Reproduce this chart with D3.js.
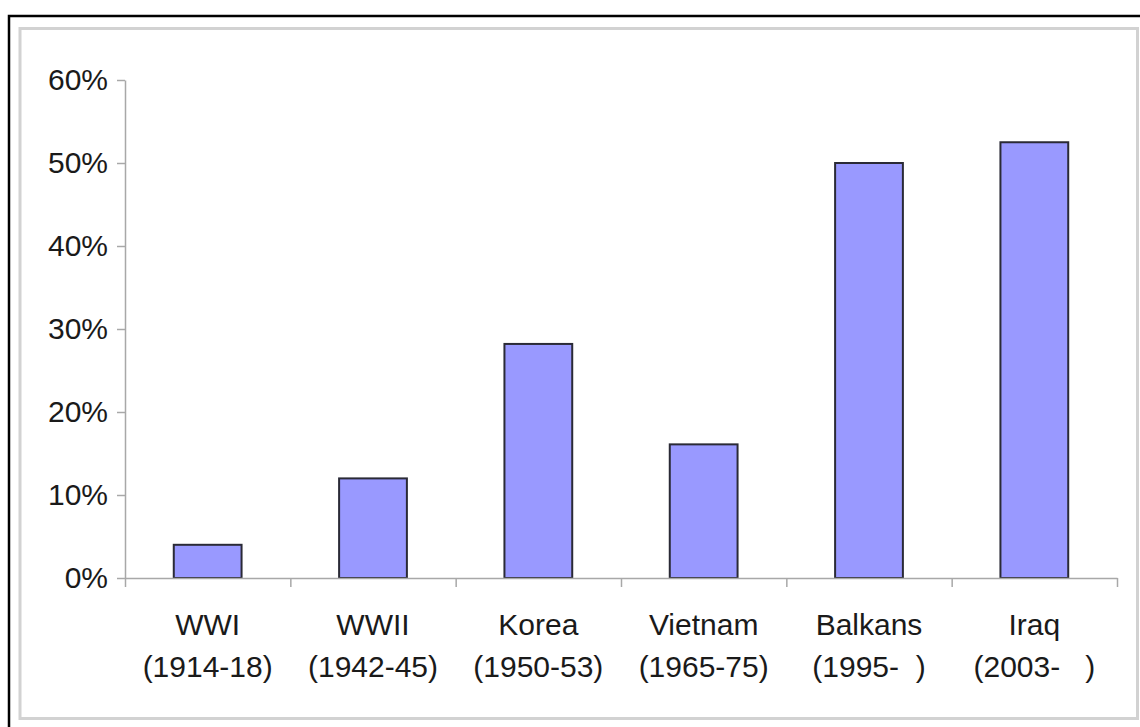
<!DOCTYPE html>
<html>
<head>
<meta charset="utf-8">
<script src="https://cdn.jsdelivr.net/npm/d3@7"></script>
<style>
  html, body { margin: 0; padding: 0; background: #fff; }
  svg { display: block; }
  text { font-family: "Liberation Sans", Arial, sans-serif; fill: #1a1a1a; }
</style>
</head>
<body>
<div id="chart"></div>
<script>
/* Percentage bar chart by conflict */

const conflicts = ["WWI", "WWII", "Korea", "Vietnam", "Balkans", "Iraq"];
const periods = ["(1914-18)", "(1942-45)", "(1950-53)", "(1965-75)", "(1995-  )", "(2003-   )"];
const shares = [4, 12, 28.2, 16.1, 50, 52.5];
const yTicks = [0, 10, 20, 30, 40, 50, 60];

const width = 1140, height = 727;
const margin = { top: 80, right: 23, bottom: 149, left: 125 };
const plotW = width - margin.left - margin.right;
const plotH = height - margin.top - margin.bottom;

const svg = d3.select("#chart")
  .append("svg")
  .attr("width", width)
  .attr("height", height);

// Outer frame (black, clipped by the page edge) and the chart-area frame
svg.append("rect")
  .attr("x", 9).attr("y", 16)
  .attr("width", width + 20).attr("height", height + 20)
  .attr("fill", "none")
  .attr("stroke", "#000")
  .attr("stroke-width", 2.5);

svg.append("rect")
  .attr("x", 20).attr("y", 28.5)
  .attr("width", 1117.5).attr("height", 690)
  .attr("fill", "none")
  .attr("stroke", "#d2d2d2")
  .attr("stroke-width", 3);

const g = svg.append("g").attr("transform", `translate(${margin.left},${margin.top})`);

const x = d3.scaleBand().domain(conflicts).range([0, plotW]).padding(0);
const xEdges = d3.scaleLinear().domain([0, conflicts.length]).range([0, plotW]);
const y = d3.scaleLinear().domain([0, 60]).range([plotH, 0]);
const barW = x.bandwidth() * 0.41;

// Bars
g.selectAll("rect.bar")
  .data(conflicts)
  .join("rect")
  .attr("class", "bar")
  .attr("x", d => x(d) + (x.bandwidth() - barW) / 2)
  .attr("y", (d, i) => y(shares[i]))
  .attr("width", barW)
  .attr("height", (d, i) => y(0) - y(shares[i]))
  .attr("fill", "#9999ff")
  .attr("stroke", "#2a2a36")
  .attr("stroke-width", 2);

// Y axis
const yAxis = g.append("g")
  .call(d3.axisLeft(y).tickValues(yTicks).tickSize(8).tickSizeOuter(0).tickFormat(d => d + "%"));
yAxis.select(".domain").attr("stroke", "#a8a8a8").attr("stroke-width", 1.5);
yAxis.selectAll(".tick line").attr("stroke", "#a8a8a8").attr("stroke-width", 1.5);
yAxis.selectAll(".tick text")
  .attr("x", -17)
  .attr("font-size", 30)
  .attr("fill", "#1a1a1a")
  .style("font-family", "'Liberation Sans', Arial, sans-serif");

// X axis with ticks between categories
const xAxis = g.append("g")
  .attr("transform", `translate(0,${plotH})`)
  .call(d3.axisBottom(xEdges).tickValues(d3.range(conflicts.length + 1)).tickSize(9).tickSizeOuter(0).tickFormat(""));
xAxis.select(".domain").attr("stroke", "#a8a8a8").attr("stroke-width", 1.5);
xAxis.selectAll(".tick line").attr("stroke", "#a8a8a8").attr("stroke-width", 1.5);

// Category labels (two lines)
const labels = g.selectAll("text.cat")
  .data(conflicts)
  .join("text")
  .attr("class", "cat")
  .attr("text-anchor", "middle")
  .attr("font-size", 30);

labels.append("tspan")
  .attr("x", d => x(d) + x.bandwidth() / 2)
  .attr("y", plotH + 57)
  .text(d => d);

labels.append("tspan")
  .attr("x", d => x(d) + x.bandwidth() / 2)
  .attr("y", plotH + 99)
  .attr("xml:space", "preserve")
  .style("white-space", "pre")
  .text((d, i) => periods[i]);
</script>
</body>
</html>
